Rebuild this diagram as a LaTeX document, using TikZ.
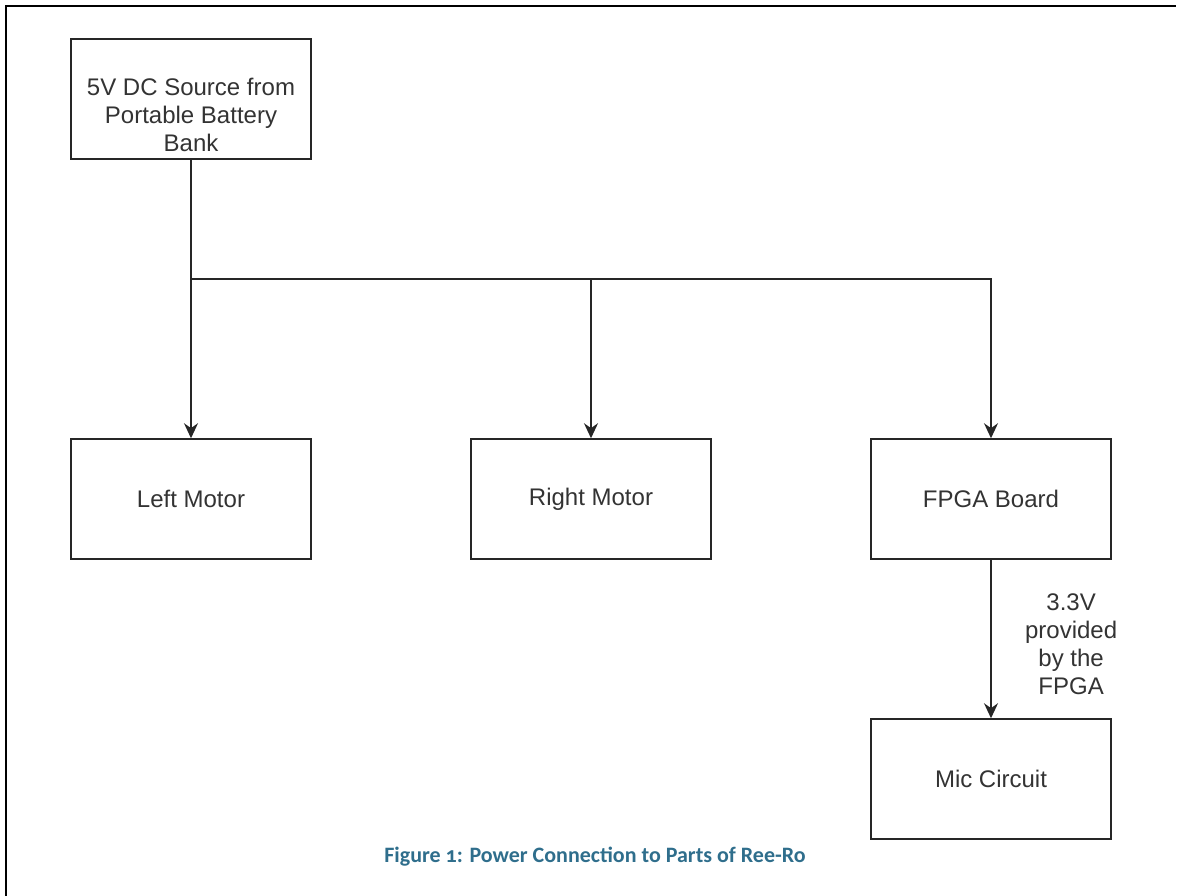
\documentclass[tikz,border=0pt]{standalone}
\usepackage{fontspec}
\setmainfont{Liberation Sans}
\newfontfamily\capfont{Carlito}[Numbers=OldStyle]
\usepackage{xcolor}
\usetikzlibrary{arrows.meta}
\definecolor{boxtext}{HTML}{333333}
\definecolor{capblue}{HTML}{2F6E8C}

\begin{document}
\begin{tikzpicture}[x=1pt, y=-1pt,
    every node/.style={font=\fontsize{24}{28}\selectfont, text=boxtext},
    block/.style={draw=black!85, line width=1.5pt, minimum width=240pt, minimum height=120pt, align=center, inner sep=0pt},
    feed/.style={draw=black!85, line width=1.5pt, -{Stealth[length=15pt, width=14pt]}}]
    \useasboundingbox (0,0) rectangle (1180,896);

    % Frame
    \draw[line width=2pt] (6,896) -- (6,6) -- (1176,6);

    % Source
    \node[block, label={[name=srctext, align=center, yshift=-16pt]center:5V DC Source from\\Portable Battery\\Bank}] (src) at (191,99) {};

    % Loads
    \node[block] (left) at (191,499) {Left Motor};
    \node[block] (right) at (591,499) {Right Motor};
    \node[block] (fpga) at (991,499) {FPGA Board};
    \node[block] (mic) at (991,779) {Mic Circuit};

    % Split point
    \coordinate (split) at (191,279);

    % Arrows
    \draw[feed] (src) -- (left);
    \draw[feed] (split) -| (fpga);
    \draw[feed] (split -| right) -- (right);
    \draw[feed] (fpga) -- (mic) node[midway, right=30pt, yshift=-5pt, align=center] (vlabel) {3.3V\\provided\\by the\\FPGA};

    % Caption
    \node[font=\capfont\bfseries\fontsize{22}{26}\selectfont, text=capblue] (caption) at (595,857) {Figure 1: Power Connection to Parts of Ree-Ro};
\end{tikzpicture}
\end{document}
